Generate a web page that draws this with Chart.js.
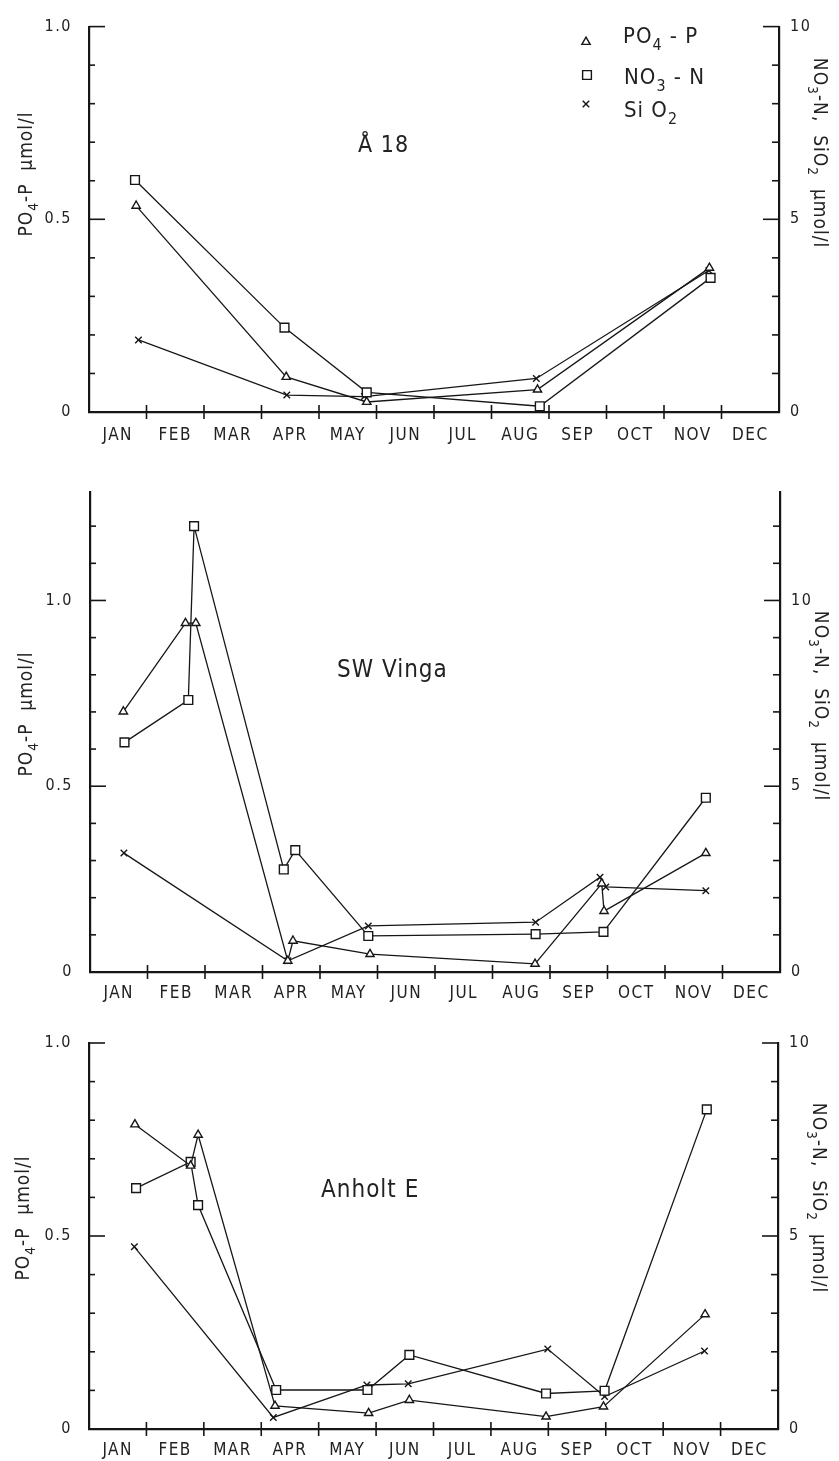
<!DOCTYPE html>
<html><head><meta charset="utf-8">
<script src="https://cdn.jsdelivr.net/npm/chart.js@4/dist/chart.umd.min.js"></script>
<style>
html,body{margin:0;padding:0;background:#fff;}
body{width:839px;height:1461px;position:relative;overflow:hidden;}
canvas{position:absolute;left:0;}
</style></head>
<body>
<canvas id="c1" width="839" height="465" style="top:0px"></canvas>
<canvas id="c2" width="839" height="540" style="top:465px"></canvas>
<canvas id="c3" width="839" height="456" style="top:1005px"></canvas>
<script>
// ---------- data ----------
const MONTHS = ['JAN','FEB','MAR','APR','MAY','JUN','JUL','AUG','SEP','OCT','NOV','DEC'];
const LEFT_TICK_VALUES = [0, 0.5, 1.0];
const LEFT_TICK_LABELS = ['0', '0.5', '1.0'];
const RIGHT_TICK_VALUES = [0, 5, 10];
const RIGHT_TICK_LABELS = ['0', '5', '10'];
const STATIONS = ['Å 18', 'SW Vinga', 'Anholt E'];
const SERIES = ['PO4-P', 'NO3-N', 'SiO2'];

// Å 18 (time in months from 1 Jan; PO4-P left axis µmol/l; NO3-N, SiO2 right axis µmol/l)
const A18_PO4_T = [0.82, 3.43, 4.83, 7.80, 10.79];
const A18_PO4   = [0.535, 0.091, 0.026, 0.058, 0.374];
const A18_NO3_T = [0.80, 3.40, 4.83, 7.84, 10.81];
const A18_NO3   = [6.02, 2.19, 0.51, 0.15, 3.48];
const A18_SI_T  = [0.86, 3.44, 4.79, 7.78, 10.78];
const A18_SI    = [1.87, 0.44, 0.40, 0.87, 3.67];

// SW Vinga
const VIN_PO4_T = [0.58, 1.66, 1.84, 3.44, 3.53, 4.87, 7.74, 8.90, 8.94, 10.71];
const VIN_PO4   = [0.701, 0.939, 0.939, 0.030, 0.084, 0.048, 0.022, 0.238, 0.164, 0.320];
const VIN_NO3_T = [0.60, 1.71, 1.81, 3.37, 3.57, 4.84, 7.75, 8.93, 10.71];
const VIN_NO3   = [6.18, 7.32, 12.0, 2.76, 3.28, 0.97, 1.02, 1.08, 4.69];
const VIN_SI_T  = [0.59, 3.44, 4.84, 7.75, 8.87, 8.97, 10.71];
const VIN_SI    = [3.20, 0.30, 1.24, 1.34, 2.55, 2.29, 2.19];

// Anholt E
const ANH_PO4_T = [0.80, 1.77, 1.90, 3.24, 4.87, 5.58, 7.96, 8.96, 10.73];
const ANH_PO4   = [0.789, 0.682, 0.762, 0.060, 0.041, 0.075, 0.032, 0.058, 0.297];
const ANH_NO3_T = [0.82, 1.77, 1.90, 3.26, 4.85, 5.58, 7.96, 8.98, 10.76];
const ANH_NO3   = [6.24, 6.92, 5.80, 1.01, 1.01, 1.92, 0.92, 0.99, 8.28];
const ANH_SI_T  = [0.79, 3.21, 4.84, 5.56, 7.99, 8.98, 10.72];
const ANH_SI    = [4.72, 0.30, 1.14, 1.17, 2.07, 0.84, 2.02];

// ---------- drawing helpers ----------
const FAM = "'DejaVu Sans Condensed','Liberation Sans Narrow','DejaVu Sans',sans-serif";
const INK = '#161616';
const TXT = '#222';

function richWidth(ctx, segs, size) {
  let w = 0;
  segs.forEach(([t, sub]) => { ctx.font = (sub ? size * 0.72 : size) + 'px ' + FAM; w += ctx.measureText(t).width; });
  return w;
}
function drawRich(ctx, segs, x, y, size) {
  let cx = x;
  segs.forEach(([t, sub]) => {
    const s = sub ? size * 0.72 : size;
    ctx.font = s + 'px ' + FAM;
    ctx.fillText(t, cx, y + (sub ? size * 0.3 : 0));
    cx += ctx.measureText(t).width;
  });
}

const LEFT_TITLE = [['PO', 0], ['4', 1], ['-P  \u03BCmol/l', 0]];
const RIGHT_TITLE = [['NO', 0], ['3', 1], ['-N,  SiO', 0], ['2', 1], ['  \u03BCmol/l', 0]];
const LEGEND_TEXT = [
  [['PO', 0], ['4', 1], [' - P', 0]],
  [['NO', 0], ['3', 1], [' - N', 0]],
  [['Si O', 0], ['2', 1]]
];
const LEGEND_STYLE = ['triangle', 'rect', 'crossRot'];
const LEGEND_RADIUS = [4.8, 6.2, 4.6];

const deco = {
  id: 'deco',
  beforeDraw(chart) { chart.ctx.letterSpacing = '1.5px'; },
  afterDraw(chart, args, o) {
    const ctx = chart.ctx, ca = chart.chartArea;
    const sx = chart.scales.x, sy = chart.scales.y, sy2 = chart.scales.y2;
    ctx.save();
    ctx.strokeStyle = INK; ctx.lineWidth = 1.6; ctx.lineCap = 'butt';
    // inward ticks, left axis
    sy.ticks.forEach(t => {
      const k = Math.round(t.value * 10);
      if (Math.abs(t.value - k / 10) > 1e-6 || k === 0) return;
      const len = k % 5 === 0 ? 16 : 6;
      const p = sy.getPixelForValue(t.value);
      ctx.beginPath(); ctx.moveTo(ca.left, p); ctx.lineTo(ca.left + len, p); ctx.stroke();
    });
    // inward ticks, right axis
    sy2.ticks.forEach(t => {
      const k = Math.round(t.value);
      if (Math.abs(t.value - k) > 1e-6 || k === 0) return;
      const len = k % 5 === 0 ? 16 : 7;
      const p = sy2.getPixelForValue(t.value);
      ctx.beginPath(); ctx.moveTo(ca.right, p); ctx.lineTo(ca.right - len, p); ctx.stroke();
    });
    // month boundary ticks crossing the x axis
    sx.ticks.forEach(t => {
      const k = Math.round(t.value);
      if (Math.abs(t.value - k) > 1e-6 || k === 0 || k === 12) return;
      const p = sx.getPixelForValue(t.value);
      ctx.beginPath(); ctx.moveTo(p, ca.bottom - 7); ctx.lineTo(p, ca.bottom + 7); ctx.stroke();
    });

    ctx.fillStyle = TXT;
    ctx.textBaseline = 'alphabetic';
    ctx.textAlign = 'left';
    ctx.letterSpacing = '1px';
    // station title
    ctx.font = o.titleSize + 'px ' + FAM;
    ctx.fillText(o.title, o.titleX, o.titleY);
    // left axis title (rotated, reads bottom to top)
    ctx.save();
    ctx.translate(o.leftX, o.leftY);
    ctx.rotate(-Math.PI / 2);
    drawRich(ctx, LEFT_TITLE, -richWidth(ctx, LEFT_TITLE, o.axisSize) / 2, 0, o.axisSize);
    ctx.restore();
    // right axis title (rotated, reads top to bottom)
    ctx.save();
    ctx.translate(o.rightX, o.rightY);
    ctx.rotate(Math.PI / 2);
    drawRich(ctx, RIGHT_TITLE, -richWidth(ctx, RIGHT_TITLE, o.axisSize) / 2, 0, o.axisSize);
    ctx.restore();
    // legend
    if (o.legend) {
      o.legend.forEach((it, i) => {
        ctx.save();
        ctx.strokeStyle = INK; ctx.fillStyle = '#fff'; ctx.lineWidth = 1.4;
        Chart.helpers.drawPoint(ctx, { pointStyle: LEGEND_STYLE[i], radius: LEGEND_RADIUS[i], borderWidth: 1.4, rotation: 0 }, it.mx, it.my);
        ctx.restore();
        ctx.fillStyle = TXT;
        drawRich(ctx, LEGEND_TEXT[i], it.tx, it.ty, o.legendSize);
      });
    }
    ctx.restore();
  }
};

function series(label, xs, ys, axis, style, r) {
  return {
    label: label,
    data: xs.map((x, i) => ({ x: x, y: ys[i] })),
    yAxisID: axis,
    borderColor: INK, borderWidth: 1.3,
    pointStyle: style, pointRadius: r, pointHoverRadius: r,
    pointBorderColor: INK, pointBackgroundColor: '#fff', pointBorderWidth: 1.4,
    tension: 0, fill: false, clip: false
  };
}

function makeChart(id, cfg) {
  const monthFont = { family: FAM, size: 17 };
  const numFont = { family: FAM, size: 16 };
  return new Chart(document.getElementById(id), {
    type: 'line',
    data: {
      datasets: [
        series(SERIES[0], cfg.po4t, cfg.po4, 'y', 'triangle', 4.8),
        series(SERIES[1], cfg.no3t, cfg.no3, 'y2', 'rect', 6.2),
        series(SERIES[2], cfg.sit, cfg.si, 'y2', 'crossRot', 4.6)
      ]
    },
    options: {
      responsive: false, animation: false, events: [],
      layout: { padding: { top: cfg.top, left: 0, right: 0, bottom: 0 } },
      plugins: {
        legend: { display: false }, tooltip: { enabled: false },
        deco: cfg.deco
      },
      scales: {
        x: {
          type: 'linear', min: 0, max: 12,
          afterFit(s) { s.height = cfg.xh; },
          grid: { display: false, drawTicks: false },
          border: { display: true, width: 2.2, color: INK },
          ticks: {
            stepSize: 0.5, autoSkip: false, maxRotation: 0, minRotation: 0,
            padding: cfg.xpad, color: TXT, font: monthFont,
            callback(v) { const i = Math.round(v * 2); return i % 2 === 1 ? MONTHS[(i - 1) / 2] : ''; }
          }
        },
        y: {
          type: 'linear', position: 'left', min: 0, max: cfg.ymax,
          afterFit(s) { s.width = cfg.left; },
          grid: { display: false, drawTicks: false },
          border: { display: true, width: 2.2, color: INK },
          ticks: {
            stepSize: 0.1, autoSkip: false, padding: 17, color: TXT, font: numFont,
            callback(v) { const i = LEFT_TICK_VALUES.findIndex(t => Math.abs(t - v) < 1e-6); return i >= 0 ? LEFT_TICK_LABELS[i] : ''; }
          }
        },
        y2: {
          type: 'linear', position: 'right', min: 0, max: cfg.y2max,
          afterFit(s) { s.width = 839 - cfg.right; },
          grid: { display: false, drawTicks: false },
          border: { display: true, width: 2.2, color: INK },
          ticks: {
            stepSize: 1, autoSkip: false, padding: 11, color: TXT, font: numFont,
            callback(v) { const i = RIGHT_TICK_VALUES.findIndex(t => Math.abs(t - v) < 1e-6); return i >= 0 ? RIGHT_TICK_LABELS[i] : ''; }
          }
        }
      }
    },
    plugins: [deco]
  });
}

makeChart('c1', {
  po4t: A18_PO4_T, po4: A18_PO4, no3t: A18_NO3_T, no3: A18_NO3, sit: A18_SI_T, si: A18_SI,
  top: 23, xh: 465 - 412, left: 89, right: 779, ymax: 1.0, y2max: 10, xpad: 13,
  deco: {
    title: STATIONS[0], titleX: 358, titleY: 152, titleSize: 23,
    leftX: 32, leftY: 174, rightX: 814, rightY: 153, axisSize: 19,
    legendSize: 22,
    legend: [
      { mx: 586, my: 42, tx: 623, ty: 43 },
      { mx: 587, my: 75, tx: 624, ty: 84 },
      { mx: 586, my: 104, tx: 624, ty: 117 }
    ]
  }
});

makeChart('c2', {
  po4t: VIN_PO4_T, po4: VIN_PO4, no3t: VIN_NO3_T, no3: VIN_NO3, sit: VIN_SI_T, si: VIN_SI,
  top: 8, xh: 540 - 507, left: 90, right: 780, ymax: 1.293, y2max: 12.93, xpad: 11,
  deco: {
    title: STATIONS[1], titleX: 337, titleY: 212, titleSize: 24,
    leftX: 32, leftY: 249, rightX: 815, rightY: 241, axisSize: 19,
    legendSize: 22, legend: null
  }
});

makeChart('c3', {
  po4t: ANH_PO4_T, po4: ANH_PO4, no3t: ANH_NO3_T, no3: ANH_NO3, sit: ANH_SI_T, si: ANH_SI,
  top: 38, xh: 456 - 424, left: 89, right: 778, ymax: 1.0, y2max: 10, xpad: 11,
  deco: {
    title: STATIONS[2], titleX: 321, titleY: 192, titleSize: 24,
    leftX: 29, leftY: 213, rightX: 813, rightY: 193, axisSize: 19,
    legendSize: 22, legend: null
  }
});
</script>
</body></html>
